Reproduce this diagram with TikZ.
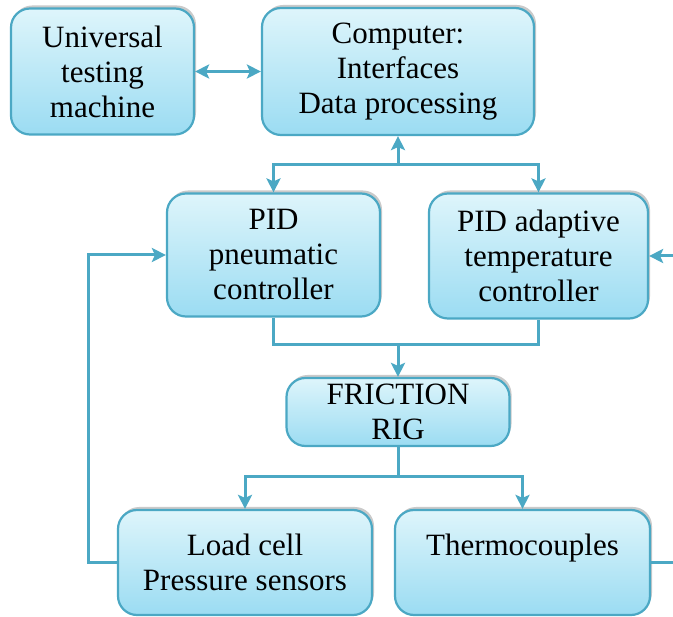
\documentclass[tikz,border=0pt]{standalone}
\usepackage{fontspec}
\setmainfont{Liberation Serif}
\usetikzlibrary{arrows.meta,shadows}
\definecolor{edgeblue}{RGB}{75,168,196}
\definecolor{topfill}{RGB}{222,245,251}
\definecolor{botfill}{RGB}{155,220,242}
\tikzset{
  blk/.style={draw=edgeblue, line width=2.2pt, rounded corners=19pt,
    top color=topfill, bottom color=botfill,
    drop shadow={shadow xshift=2pt, shadow yshift=3pt, opacity=0.35, fill=black!60},
    align=center, inner sep=0pt,
    font=\fontsize{31}{35}\selectfont},
  conn/.style={draw=edgeblue, line width=3pt},
  arr/.style={conn, -{Stealth[length=14pt,width=14pt,inset=3pt]}},
  darr/.style={conn, {Stealth[length=14pt,width=14pt,inset=3pt]}-{Stealth[length=14pt,width=14pt,inset=3pt]}}
}
\begin{document}
\begin{tikzpicture}[x=1pt,y=-1pt]
\useasboundingbox (0,0) rectangle (673,617);
\node[blk, minimum width=183pt, minimum height=126pt] (U) at (102.5,71.5) {Universal\\testing\\machine};
\node[blk, minimum width=272pt, minimum height=127pt] (C) at (398,71.5) {Computer:\\Interfaces\\Data processing};
\node[blk, minimum width=213pt, minimum height=123pt] (P) at (273.5,255) {PID\\pneumatic\\controller};
\node[blk, minimum width=219pt, minimum height=125pt] (A) at (538.5,256) {PID adaptive\\temperature\\controller};
\node[blk, minimum width=223pt, minimum height=68pt] (F) at (398,412) {FRICTION\\RIG};
\node[blk, minimum width=254pt, minimum height=105pt] (L) at (245,562.5) {Load cell\\Pressure sensors};
\node[blk, minimum width=255pt, minimum height=105pt] (T) at (522.5,562.5) {Thermocouples\\\mbox{}};
\coordinate (j1) at (398,165);
\coordinate (j2) at (398,345);
\coordinate (j3) at (398,477);
\coordinate (re1) at (673,256);
\coordinate (re2) at (673,562.5);
\draw[darr] (U) -- (C);
\draw[arr] (j1) -- (C.south);
\draw[arr] (j1) -| (P.north);
\draw[arr] (j1) -| (A.north);
\draw[conn] (P.south) |- (j2) -| (A.south);
\draw[arr] (j2) -- (F.north);
\draw[conn] (F.south) -- (j3);
\draw[arr] (j3) -| (L.north);
\draw[arr] (j3) -| (T.north);
\draw[arr] (L.west) -- ++(-28,0) |- (P.west);
\draw[conn] (T.east) -- (re2);
\draw[arr] (re1) -- (A.east);
\end{tikzpicture}
\end{document}
